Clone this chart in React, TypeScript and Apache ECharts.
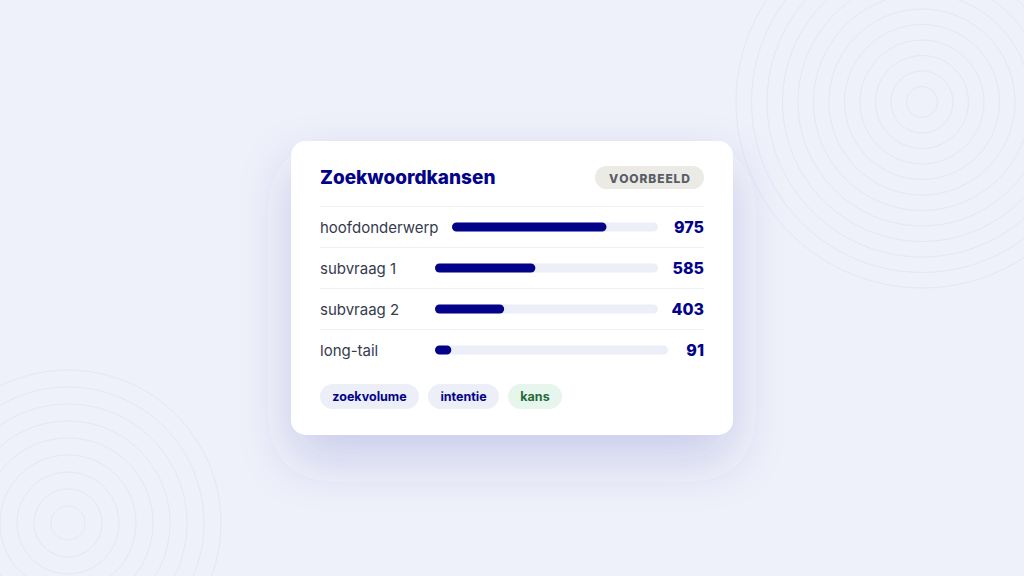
import React, { useEffect, useRef } from "react";
import * as echarts from "echarts";

const title = "Zoekwoordkansen";
const badge = "VOORBEELD";
const categories = ["hoofdonderwerp", "subvraag 1", "subvraag 2", "long-tail"];
const values = [975, 585, 403, 91];
const scaleMax = 1300;
const tags = ["zoekvolume", "intentie", "kans"];

const trackStart = [452, 435, 435, 435];
const trackEnd = [658, 658, 658, 668];

const NAVY = "#03038a";
const FONT = "Inter, 'Noto Sans', sans-serif";

export default function App() {
  const ref = useRef<HTMLDivElement>(null);
  useEffect(() => {
    const chart = echarts.init(ref.current!, undefined, { renderer: "svg" });
    const rowY = (i: number) => 227 + 41 * i;

    const grids: any[] = [];
    const xAxes: any[] = [];
    const yAxes: any[] = [];
    const series: any[] = [];
    categories.forEach((c, i) => {
      grids.push({
        left: trackStart[i],
        width: trackEnd[i] - trackStart[i],
        top: rowY(i) - 6,
        height: 12,
        containLabel: false,
      });
      xAxes.push({ type: "value", gridIndex: i, min: 0, max: scaleMax, show: false });
      yAxes.push({ type: "category", gridIndex: i, data: [c], show: false });
      series.push({
        type: "bar",
        xAxisIndex: i,
        yAxisIndex: i,
        data: [values[i]],
        barWidth: 9,
        z: 5,
        showBackground: true,
        backgroundStyle: { color: "#eceef8", borderRadius: 5 },
        itemStyle: { color: NAVY, borderRadius: 5 },
        silent: true,
      });
    });

    const g: any[] = [];
    // background rings
    for (let k = 0; k < 12; k++) {
      g.push({
        type: "circle",
        shape: { cx: 922, cy: 102, r: 15.5 * (k + 1) },
        style: { fill: "none", stroke: "#e4e7f4", lineWidth: 1 },
        z: 0,
        silent: true,
      });
    }
    for (let k = 0; k < 9; k++) {
      g.push({
        type: "circle",
        shape: { cx: 68, cy: 523, r: 17 * (k + 1) },
        style: { fill: "none", stroke: "#e4e7f4", lineWidth: 1 },
        z: 0,
        silent: true,
      });
    }
    // card
    g.push({
      type: "rect",
      shape: { x: 291, y: 141, width: 442, height: 294, r: 15 },
      style: {
        fill: "#ffffff",
        shadowBlur: 50,
        shadowOffsetY: 24,
        shadowColor: "rgba(70,70,170,0.2)",
      },
      z: 1,
      silent: true,
    });
    g.push({
      type: "text",
      x: 320,
      y: 177,
      style: {
        text: title,
        fill: NAVY,
        font: `800 19px ${FONT}`,
        verticalAlign: "middle",
        align: "left",
      },
      z: 3,
    });
    g.push({
      type: "rect",
      shape: { x: 595, y: 166, width: 109, height: 23, r: 11.5 },
      style: { fill: "#eceae5" },
      z: 2,
    });
    g.push({
      type: "text",
      x: 649.5,
      y: 178,
      style: {
        text: badge.split("").join("\u200A"),
        fill: "#585d68",
        font: `800 12px ${FONT}`,
        align: "center",
        verticalAlign: "middle",
      },
      z: 3,
    });
    // dividers
    for (let k = 0; k < 4; k++) {
      const y = 206.5 + 41 * k;
      g.push({
        type: "line",
        shape: { x1: 320, y1: y, x2: 704, y2: y },
        style: { stroke: "#eef0f6", lineWidth: 1 },
        z: 2,
      });
    }
    categories.forEach((c, i) => {
      g.push({
        type: "text",
        x: 320,
        y: rowY(i),
        style: {
          text: c,
          fill: "#363b4e",
          font: `400 15px ${FONT}`,
          align: "left",
          verticalAlign: "middle",
        },
        z: 3,
      });
      g.push({
        type: "text",
        x: 704,
        y: rowY(i),
        style: {
          text: String(values[i]),
          fill: NAVY,
          font: `800 16px ${FONT}`,
          align: "right",
          verticalAlign: "middle",
        },
        z: 3,
      });
    });
    // tags
    const tagX = [320, 428, 508];
    const tagW = [99, 71, 54];
    tags.forEach((t, i) => {
      const green = i === 2;
      g.push({
        type: "rect",
        shape: { x: tagX[i], y: 384, width: tagW[i], height: 25, r: 12.5 },
        style: { fill: green ? "#e7f6ec" : "#eceef8" },
        z: 2,
      });
      g.push({
        type: "text",
        x: tagX[i] + tagW[i] / 2,
        y: 396.5,
        style: {
          text: t,
          fill: green ? "#1f6a37" : NAVY,
          font: `700 12.5px ${FONT}`,
          align: "center",
          verticalAlign: "middle",
        },
        z: 3,
      });
    });

    chart.setOption({
      animation: false,
      backgroundColor: "#eef0fa",
      grid: grids,
      xAxis: xAxes,
      yAxis: yAxes,
      series,
      graphic: { elements: g },
    });
    return () => chart.dispose();
  }, []);
  return (
    <div
      ref={ref}
      style={{ position: "fixed", left: 0, top: 0, width: 1024, height: 576 }}
    />
  );
}
